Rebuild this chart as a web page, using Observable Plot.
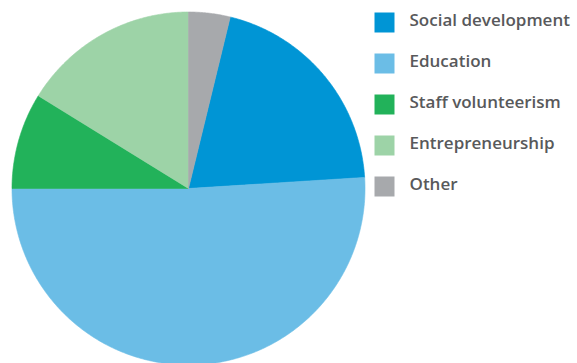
<!DOCTYPE html>
<html>
<head>
<meta charset="utf-8">
<script src="https://cdn.jsdelivr.net/npm/d3@7"></script>
<script src="https://cdn.jsdelivr.net/npm/@observablehq/plot@0.6"></script>
<style>
  html, body { margin: 0; padding: 0; background: #fff; overflow: hidden; }
</style>
</head>
<body>
<div id="chart"></div>
<script>
// Data (legend order)
const categories = ["Social development", "Education", "Staff volunteerism", "Entrepreneurship", "Other"];
const shares = [20.2, 51.0, 8.8, 16.2, 3.8];
const colors = ["#0095d5", "#6bbde6", "#22b25a", "#9dd3a7", "#a7a9ac"];

// Layout
const W = 577, H = 363;
const cx = 188, cy = 188, R = 176.5;
const total = d3.sum(shares);
// Pie starts (clockwise from 12 o'clock) right after "Other"
const startAngle = shares[shares.length - 1] / total * 2 * Math.PI;

const slicePoints = [];
let a0 = startAngle;
categories.forEach((cat, i) => {
  const a1 = a0 + shares[i] / total * 2 * Math.PI;
  slicePoints.push({cat, x: cx, y: cy});
  const steps = Math.max(2, Math.ceil((a1 - a0) / (Math.PI / 360)));
  for (let k = 0; k <= steps; k++) {
    const a = a0 + (a1 - a0) * k / steps;
    slicePoints.push({cat, x: cx + R * Math.sin(a), y: cy - R * Math.cos(a)});
  }
  slicePoints.push({cat, x: cx, y: cy});
  a0 = a1;
});

const legendX = 384, legendY0 = 22, legendStep = 41;
const legend = categories.map((cat, i) => ({cat, x: legendX, y: legendY0 + i * legendStep}));

const chart = Plot.plot({
  width: W,
  height: H,
  margin: 0,
  x: {domain: [0, W], range: [0, W], axis: null},
  y: {domain: [0, H], range: [0, H], axis: null},
  color: {domain: categories, range: colors, type: "ordinal"},
  style: {background: "#fff"},
  marks: [
    Plot.line(slicePoints, {x: "x", y: "y", z: "cat", fill: "cat", stroke: "cat", strokeWidth: 0.6, curve: "linear"}),
    Plot.dot(legend, {x: "x", y: "y", symbol: "square", r: 20 / Math.sqrt(Math.PI), fill: "cat", stroke: null}),
    Plot.text(legend, {x: d => d.x + 25, y: "y", text: "cat", textAnchor: "start", fontSize: 17, fontWeight: 600, fill: "#58595b", fontFamily: "Open Sans", dy: -1.5})
  ]
});
document.getElementById("chart").append(chart);
</script>
</body>
</html>
